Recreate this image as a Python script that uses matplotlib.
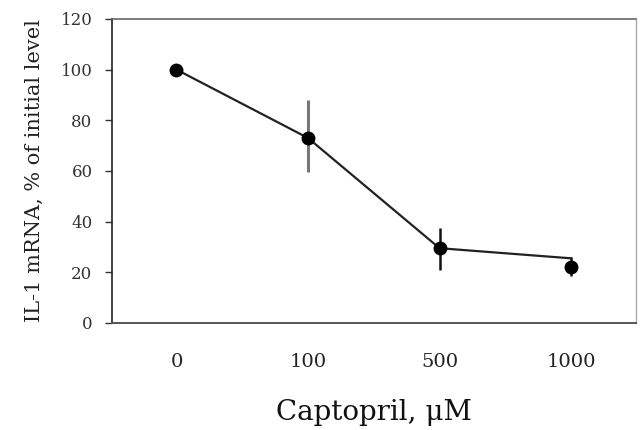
import numpy as np
import matplotlib
matplotlib.use("Agg")
import matplotlib.pyplot as plt

# captopril dose (categorical x axis)
doses = ["0", "100", "500", "1000"]
# IL-1 mRNA, % of initial level
line_vals = [100, 73, 29.5, 25.5]     # where the connecting line goes
point_vals = [100, 73, 29.5, 22]      # where the dots sit
err_lo = [100, 59.5, 21, 18.5]
err_hi = [100, 88, 37.5, 26]
yticks = [0, 20, 40, 60, 80, 100, 120]

plt.rcParams['font.family'] = ['DejaVu Serif']

fig = plt.figure(figsize=(6.4, 4.3), dpi=100)
ax = fig.add_axes([0.175, 0.249, 0.818, 0.707])

x = np.arange(len(doses))
ax.vlines(x[1], err_lo[1], err_hi[1], color='#777777', lw=2.2, zorder=2)
ax.vlines(x[2:], np.array(err_lo[2:]), np.array(err_hi[2:]), color='#111111', lw=1.8, zorder=2)
ax.plot(x, line_vals, color='#222222', lw=1.6, zorder=3)
ax.plot(x, point_vals, 'o', color='black', ms=9, zorder=4)

ax.set_xlim(-0.49, 3.49)
ax.set_ylim(0, 120)
ax.set_yticks(yticks)
ax.set_xticks(x)
ax.set_xticklabels(doses)

ax.tick_params(axis='y', direction='out', length=5, width=1, pad=9, labelsize=12, colors='#333333')
ax.tick_params(axis='x', length=0, pad=22, labelsize=14, labelcolor='#222222')

ax.spines['left'].set_color('#222222')
ax.spines['left'].set_linewidth(1.2)
ax.spines['bottom'].set_color('#555555')
ax.spines['bottom'].set_linewidth(1.4)
ax.spines['top'].set_color('#666666')
ax.spines['top'].set_linewidth(1.2)
ax.spines['right'].set_color('#aaaaaa')
ax.spines['right'].set_linewidth(1.0)

ax.set_xlabel("Captopril, \u03bcM", fontsize=20, labelpad=20, color='#111111')
ax.set_ylabel("IL-1 mRNA, % of initial level", fontsize=15, labelpad=12, color='#222222')

plt.savefig("out.png", dpi=100)
